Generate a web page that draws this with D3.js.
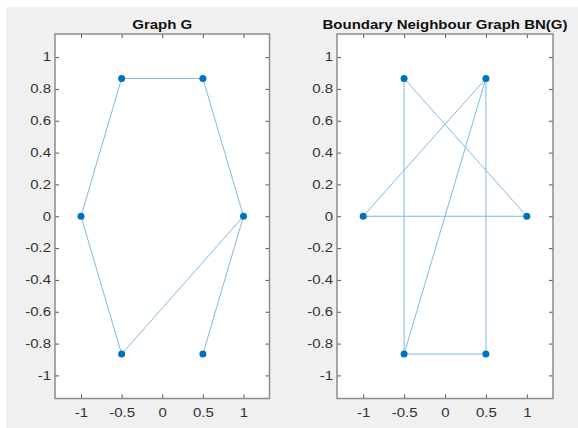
<html>
<head>
<style>
  body { margin: 0; background: #fff; }
  .tick text { font-family: "Liberation Sans", Arial, sans-serif; font-size: 12px; fill: #333; }
  .tick line { stroke: #555; }
  .edge { stroke: #7fbbe3; stroke-width: 1; fill: none; }
  .node { fill: #0072bd; }
  .title { font-family: "Liberation Sans", Arial, sans-serif; font-weight: bold; font-size: 12px; fill: #111; }
</style>
</head>
<body>
<svg id="fig" width="578" height="428"></svg>
<script src="https://cdn.jsdelivr.net/npm/d3@7"></script>
<script>
// hexagon vertices
let nodeX = [1, 0.5, -0.5, -1, -0.5, 0.5]
let nodeY = [0, 0.866, 0.866, 0, -0.866, -0.866]

// edges as index pairs
let edgesG = [[1, 2], [0, 1], [2, 3], [3, 4], [4, 0], [5, 0]]
let edgesBN = [[2, 4], [2, 0], [1, 3], [1, 4], [1, 5], [3, 0], [4, 5]]

let titles = ["Graph G", "Boundary Neighbour Graph BN(G)"]
let xTicks = [-1, -0.5, 0, 0.5, 1]
let yTicks = [-1, -0.8, -0.6, -0.4, -0.2, 0, 0.2, 0.4, 0.6, 0.8, 1]

let svg = d3.select("#fig")
svg.append("rect").attr("x", 6).attr("y", 7).attr("width", 572).attr("height", 421).attr("fill", "#f0f0f0")

let panels = [
  { left: 55, right: 269.5, edges: edgesG, title: titles[0] },
  { left: 337, right: 553, edges: edgesBN, title: titles[1] }
]
let plotTop = 34, plotBottom = 398.5
let sx = 1.25 // text looks stretched horizontally

function fmt(d) { return d3.format("")(d).replace("−", "-") }

panels.forEach(p => {
  let x = d3.scaleLinear().domain([-1.32, 1.32]).range([p.left, p.right])
  let y = d3.scaleLinear().domain([-1.145, 1.145]).range([plotBottom, plotTop])
  let g = svg.append("g")

  g.append("rect")
    .attr("x", p.left).attr("y", plotTop)
    .attr("width", p.right - p.left).attr("height", plotBottom - plotTop)
    .attr("fill", "white")

  g.append("g").attr("transform", `translate(0,${plotBottom})`)
    .call(d3.axisBottom(x).tickValues(xTicks).tickSize(-4).tickPadding(10).tickFormat(fmt))
  g.append("g").attr("transform", `translate(0,${plotTop})`)
    .call(d3.axisTop(x).tickValues(xTicks).tickSize(-4).tickFormat(""))
  g.append("g").attr("transform", `translate(${p.left},0)`)
    .call(d3.axisLeft(y).tickValues(yTicks).tickSize(-4).tickPadding(4).tickFormat(fmt))
  g.append("g").attr("transform", `translate(${p.right},0)`)
    .call(d3.axisRight(y).tickValues(yTicks).tickSize(-4).tickFormat(""))

  g.selectAll(".domain").remove()
  g.selectAll(".tick text").attr("transform", `scale(${sx},1)`)
    .attr("x", function () { return +d3.select(this).attr("x") / sx })

  g.append("rect")
    .attr("x", p.left).attr("y", plotTop)
    .attr("width", p.right - p.left).attr("height", plotBottom - plotTop)
    .attr("fill", "none").attr("stroke", "#8c8c8c").attr("stroke-width", 1.5)

  g.selectAll("line.edge").data(p.edges).enter().append("line")
    .attr("class", "edge")
    .attr("x1", d => x(nodeX[d[0]])).attr("y1", d => y(nodeY[d[0]]))
    .attr("x2", d => x(nodeX[d[1]])).attr("y2", d => y(nodeY[d[1]]))

  // only nodes that appear in an edge get a marker
  let used = Array.from(new Set(p.edges.flat()))
  g.selectAll("circle").data(used).enter().append("circle")
    .attr("class", "node")
    .attr("cx", i => x(nodeX[i])).attr("cy", i => y(nodeY[i])).attr("r", 3.5)

  let cx = (p.left + p.right) / 2
  g.append("text").attr("class", "title")
    .attr("text-anchor", "middle")
    .attr("transform", `translate(${cx},29) scale(${sx},1)`)
    .text(p.title)
})
</script>
</body>
</html>
